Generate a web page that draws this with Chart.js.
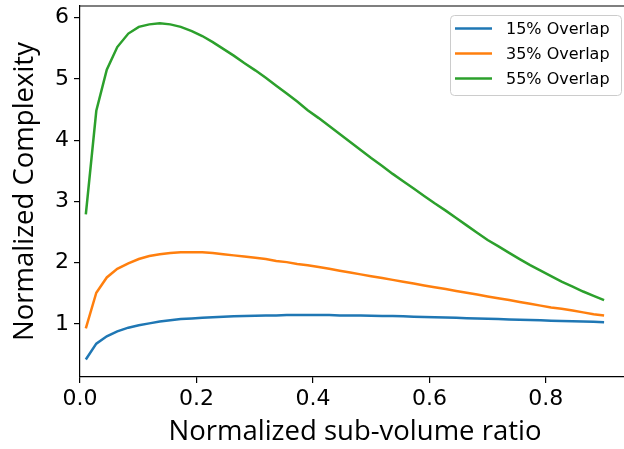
<!DOCTYPE html>
<html>
<head>
<meta charset="utf-8">
<script src="https://cdn.jsdelivr.net/npm/chart.js@4"></script>
<style>
    html, body { margin: 0; padding: 0; background: #fff; overflow: hidden; width: 624px; height: 449px; }
    canvas { display: block; }
</style>
</head>
<body>
<!-- el lienzo es algo mas ancho: la figura original corta el eje por la derecha -->
<canvas id="grafica" width="630" height="449"></canvas>
<script>
// valores
const ratios = [0.010, 0.028, 0.046, 0.064, 0.083, 0.101, 0.119, 0.137, 0.155, 0.173,
    0.192, 0.210, 0.228, 0.246, 0.264, 0.282, 0.301, 0.319, 0.337, 0.355,
    0.373, 0.391, 0.410, 0.428, 0.446, 0.464, 0.482, 0.500, 0.519, 0.537,
    0.555, 0.573, 0.591, 0.609, 0.628, 0.646, 0.664, 0.682, 0.700, 0.718,
    0.737, 0.755, 0.773, 0.791, 0.809, 0.827, 0.846, 0.864, 0.882, 0.900];

const overlap15 = [0.42, 0.68, 0.80, 0.88, 0.94, 0.98, 1.01, 1.04, 1.06, 1.08,
    1.09, 1.10, 1.11, 1.12, 1.125, 1.13, 1.135, 1.14, 1.14, 1.145,
    1.145, 1.145, 1.145, 1.145, 1.14, 1.14, 1.14, 1.135, 1.13, 1.13,
    1.125, 1.12, 1.115, 1.11, 1.105, 1.10, 1.095, 1.09, 1.085, 1.08,
    1.075, 1.07, 1.065, 1.06, 1.055, 1.05, 1.045, 1.04, 1.035, 1.03];

const overlap35 = [0.93, 1.51, 1.76, 1.90, 1.99, 2.06, 2.11, 2.14, 2.16, 2.17,
    2.17, 2.17, 2.16, 2.14, 2.12, 2.10, 2.08, 2.06, 2.03, 2.01,
    1.98, 1.96, 1.93, 1.90, 1.87, 1.84, 1.81, 1.78, 1.75, 1.72,
    1.69, 1.66, 1.63, 1.60, 1.57, 1.54, 1.51, 1.48, 1.45, 1.42,
    1.39, 1.36, 1.33, 1.30, 1.27, 1.25, 1.22, 1.19, 1.16, 1.14];

const overlap55 = [2.79, 4.48, 5.15, 5.52, 5.74, 5.85, 5.89, 5.91, 5.89, 5.85,
    5.78, 5.70, 5.60, 5.49, 5.38, 5.26, 5.14, 5.02, 4.89, 4.76,
    4.63, 4.49, 4.36, 4.23, 4.10, 3.97, 3.84, 3.71, 3.58, 3.45,
    3.33, 3.21, 3.09, 2.97, 2.85, 2.73, 2.61, 2.49, 2.37, 2.27,
    2.16, 2.06, 1.96, 1.87, 1.78, 1.69, 1.61, 1.53, 1.46, 1.39];

const series = [overlap15, overlap35, overlap55];
const seriesLabels = ['15% Overlap', '35% Overlap', '55% Overlap'];
const colores = ['#1f77b4', '#ff7f0e', '#2ca02c'];

const xTicks = [0, 0.2, 0.4, 0.6, 0.8];
const yTicks = [1, 2, 3, 4, 5, 6];

// marco superior y leyenda al estilo matplotlib
const extras = {
    id: 'extras',
    afterDraw(chart) {
        const ctx = chart.ctx;
        const area = chart.chartArea;
        ctx.save();
        ctx.strokeStyle = '#000';
        ctx.lineWidth = 1.2;
        ctx.beginPath();
        ctx.moveTo(area.left, area.top);
        ctx.lineTo(area.right, area.top);
        ctx.stroke();

        let bx = area.right - 180, by = area.top + 9, bw = 171, bh = 80;
        ctx.fillStyle = 'rgba(255,255,255,0.8)';
        ctx.strokeStyle = '#cccccc';
        ctx.lineWidth = 1;
        ctx.beginPath();
        ctx.roundRect(bx + 0.5, by + 0.5, bw, bh, 4);
        ctx.fill();
        ctx.stroke();

        ctx.font = '16px "DejaVu Sans"';
        ctx.textBaseline = 'middle';
        ctx.textAlign = 'left';
        chart.data.datasets.forEach(function (ds, i) {
            let y = by + 13.5 + i * 25;
            ctx.strokeStyle = ds.borderColor;
            ctx.lineWidth = 2.5;
            ctx.beginPath();
            ctx.moveTo(bx + 5, y);
            ctx.lineTo(bx + 42, y);
            ctx.stroke();
            ctx.fillStyle = '#000';
            ctx.fillText(ds.label, bx + 56, y + 1);
        });
        ctx.restore();
    }
};

new Chart(document.getElementById('grafica').getContext('2d'), {
    type: 'line',
    data: {
        datasets: series.map(function (valores, i) {
            return {
                label: seriesLabels[i],
                data: valores.map(function (v, j) { return { x: ratios[j], y: v }; }),
                borderColor: colores[i],
                backgroundColor: colores[i],
                borderWidth: 2.5,
                pointRadius: 0,
                fill: false,
                tension: 0
            };
        })
    },
    options: {
        responsive: false,
        animation: false,
        layout: { padding: { top: 6, right: 0, left: 0, bottom: 0 } },
        plugins: {
            legend: { display: false },
            tooltip: { enabled: false }
        },
        scales: {
            x: {
                type: 'linear',
                min: 0,
                max: 0.9445,
                afterBuildTicks: function (scale) {
                    scale.ticks = xTicks.map(function (v) { return { value: v }; });
                },
                afterFit: function (scale) {
                    scale.height = 72;
                    scale.paddingLeft = 0;
                    scale.paddingRight = 0;
                },
                border: { color: '#000', width: 1.2 },
                grid: { drawOnChartArea: false, tickLength: 6, color: '#000', lineWidth: 1.2 },
                ticks: {
                    padding: 3,
                    color: '#000',
                    font: { family: 'DejaVu Sans', size: 22 },
                    maxRotation: 0,
                    callback: function (v) { return v.toFixed(1); }
                },
                title: {
                    display: true,
                    text: 'Normalized sub-volume ratio',
                    color: '#000',
                    font: { family: 'Open Sans', size: 27.5 },
                    padding: { top: 0, bottom: 0 }
                }
            },
            y: {
                min: 0.135,
                max: 6.19,
                afterBuildTicks: function (scale) {
                    scale.ticks = yTicks.map(function (v) { return { value: v }; });
                },
                afterFit: function (scale) {
                    scale.width = 80;
                    scale.paddingTop = 0;
                    scale.paddingBottom = 0;
                },
                border: { color: '#000', width: 1.2 },
                grid: { drawOnChartArea: false, tickLength: 6, color: '#000', lineWidth: 1.2 },
                ticks: {
                    padding: 5,
                    color: '#000',
                    font: { family: 'DejaVu Sans', size: 22 },
                    callback: function (v) { return String(v); }
                },
                title: {
                    display: true,
                    text: 'Normalized Complexity',
                    color: '#000',
                    font: { family: 'Open Sans', size: 27.5 },
                    padding: { top: 9, bottom: 0 }
                }
            }
        }
    },
    plugins: [extras]
});
</script>
</body>
</html>
